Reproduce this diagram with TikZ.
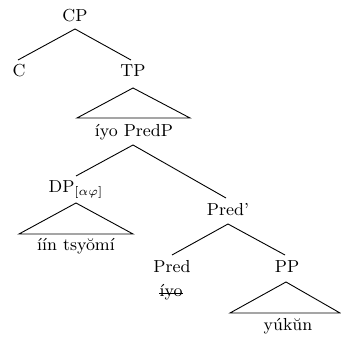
\documentclass[tikz,border=0pt]{standalone}
\begin{document}
\begin{tikzpicture}[x=0.5pt,y=-0.5pt,
  lab/.style={anchor=base,inner sep=0pt,font=\fontsize{8.7pt}{10pt}\selectfont},
  edge/.style={line width=0.45pt}]
\useasboundingbox (0,0) rectangle (341,340);
% labels
\node[lab] (CP) at (75,22) {CP};
\node[lab] (C) at (19,77) {C};
\node[lab] (TP) at (133,77) {TP};
\node[lab] (TPt) at (134,137) {íyo PredP};
\node[lab] (DP) at (76,193) {DP$_{[\alpha\varphi]}$};
\node[lab] (DPt) at (76,251) {íín tsyŏmí};
\node[lab] (Predb) at (228,216) {Pred'};
\node[lab] (Pred) at (172,273) {Pred};
\node[lab] (PP) at (287,273) {PP};
\node[lab] (iyo) at (171,297) {íyo};
\node[lab] (PPt) at (288,330) {yúkŭn};
\draw[line width=0.6pt] ([yshift=1.8pt]iyo.base west) -- ([yshift=1.8pt]iyo.base east);
% coordinates
\coordinate (cpa) at (75,29);
\coordinate (ct) at (18,60);
\coordinate (tpt) at (131,60);
\coordinate (tpa) at (133,88);
\coordinate (tpl) at (77,118);
\coordinate (tpr) at (190,118);
\coordinate (ppa) at (133,145);
\coordinate (dpt) at (76,176);
\coordinate (pbt) at (226,198);
\coordinate (dpa) at (76,203);
\coordinate (dpl) at (19,234);
\coordinate (dpr) at (133,234);
\coordinate (pba) at (228,224);
\coordinate (prt) at (172,255);
\coordinate (ppt) at (285,255);
\coordinate (pa) at (286,282);
\coordinate (pl) at (230,313);
\coordinate (pr) at (340,313);
% edges
\draw[edge] (ct) -- (cpa) -- (tpt);
\draw[edge] (tpa) -- (tpl) -- (tpr) -- cycle;
\draw[edge] (dpt) -- (ppa) -- (pbt);
\draw[edge] (dpa) -- (dpl) -- (dpr) -- cycle;
\draw[edge] (prt) -- (pba) -- (ppt);
\draw[edge] (pa) -- (pl) -- (pr) -- cycle;
\end{tikzpicture}
\end{document}
